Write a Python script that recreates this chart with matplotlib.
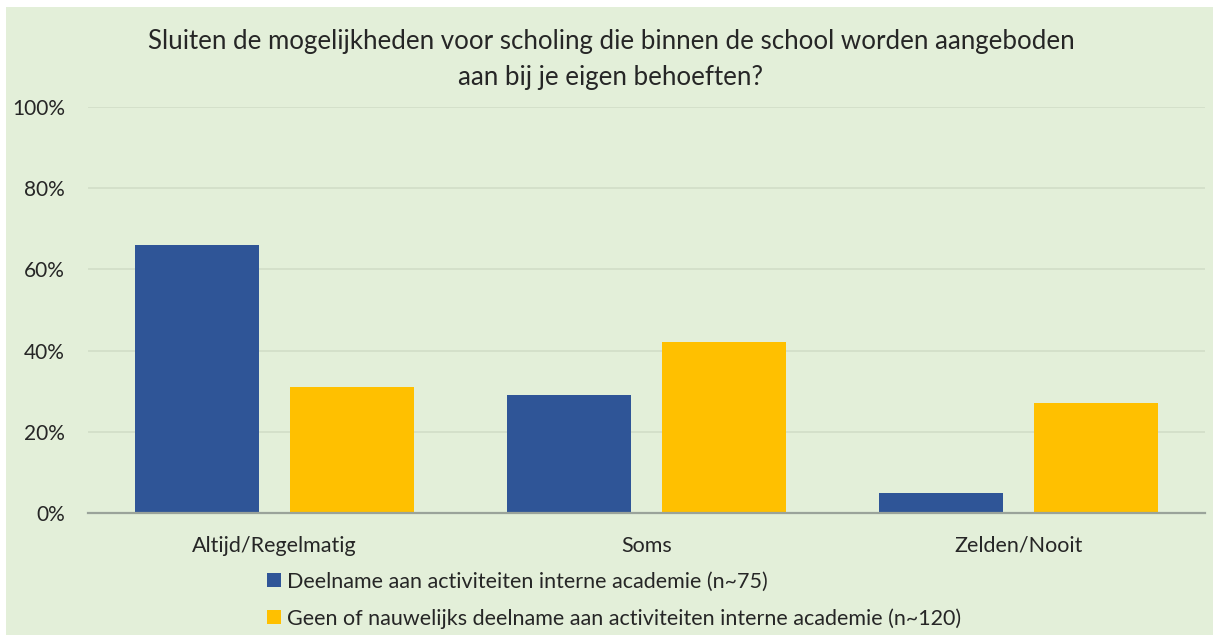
import matplotlib
matplotlib.use("Agg")
import matplotlib.pyplot as plt
import numpy as np
from matplotlib.patches import Rectangle
from matplotlib.ticker import PercentFormatter

categories = ["Altijd/Regelmatig", "Soms", "Zelden/Nooit"]
series_names = ["Deelname aan activiteiten interne academie (n~75)",
                "Geen of nauwelijks deelname aan activiteiten interne academie (n~120)"]
deelname = [0.66, 0.29, 0.05]
geen = [0.31, 0.42, 0.27]
yticks = [0, 0.2, 0.4, 0.6, 0.8, 1.0]
title = "Sluiten de mogelijkheden voor scholing die binnen de school worden aangeboden\naan bij je eigen behoeften?"

plt.rcParams['font.family'] = ['Lato', 'DejaVu Sans']
BG = "#E3EFD9"
BLUE = "#2F5597"
YELLOW = "#FFC000"
TXT = "#262626"

fig = plt.figure(figsize=(12.13, 6.35), dpi=100, facecolor="white")
fig.patches.append(Rectangle((6/1213, 0), 1 - 6/1213, 1 - 7/635, transform=fig.transFigure,
                             facecolor=BG, edgecolor="none", zorder=-10))
ax = fig.add_axes([88/1213, 1 - 513/635, (1205 - 88)/1213, (513 - 107)/635])
ax.set_facecolor("none")
ax.set_zorder(1)

x = np.arange(len(categories))
w = 0.333
off = 0.2083
ax.bar(x - off, deelname, w, color=BLUE, label=series_names[0], zorder=3)
ax.bar(x + off, geen, w, color=YELLOW, label=series_names[1], zorder=3)

ax.set_xlim(-0.5, 2.5)
ax.set_ylim(0, 1.0)
ax.set_yticks(yticks)
ax.yaxis.set_major_formatter(PercentFormatter(1.0, decimals=0))
ax.set_xticks(x)
ax.set_xticklabels(categories)
ax.grid(axis="y", color="#D2DEC8", linewidth=1.2, zorder=0)
for s in ["top", "right", "left"]:
    ax.spines[s].set_visible(False)
ax.spines["bottom"].set_color("#9AA39A")
ax.spines["bottom"].set_linewidth(1.6)
ax.spines["bottom"].set_zorder(4)
ax.tick_params(axis="both", length=0, colors=TXT)
ax.tick_params(axis="y", pad=16.5, labelsize=15)
ax.tick_params(axis="x", pad=16.5, labelsize=15.5)

fig.text(611/1213, 1 - 59.5/635, title, ha="center", va="center", fontsize=18.6,
         color=TXT, linespacing=1.5)

leg = fig.legend(loc="upper left", bbox_to_anchor=(258/1213, 1 - 563/635), frameon=False,
                 fontsize=15.5, handlelength=0.65, handleheight=0.65, handletextpad=0.3,
                 labelspacing=0.77, borderaxespad=0)
for t in leg.get_texts():
    t.set_color(TXT)

fig.savefig("out.png", dpi=100, facecolor="white")
